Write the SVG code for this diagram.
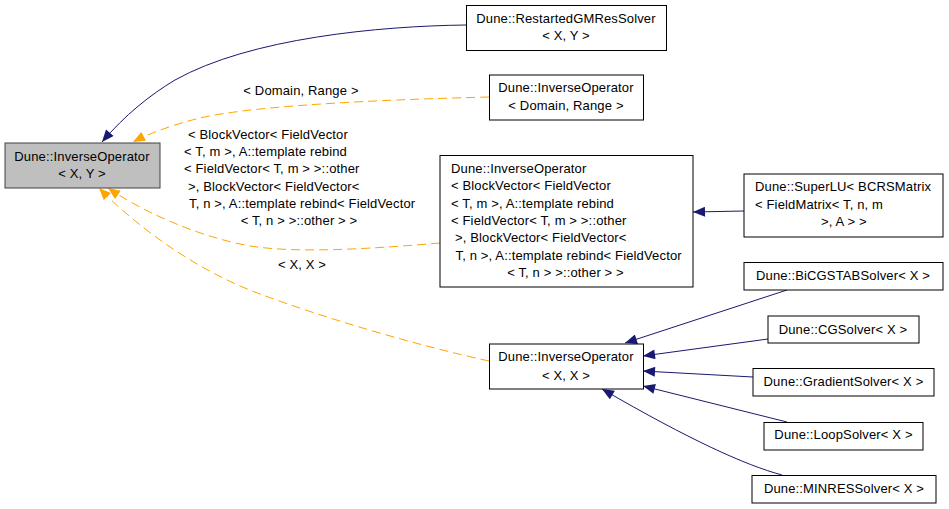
<svg xmlns="http://www.w3.org/2000/svg" width="949" height="509" viewBox="0 0 949 509">
<style>
text{font-family:"Liberation Sans",Arial,sans-serif;font-size:13px;letter-spacing:0.15px;fill:#000}
.c{text-anchor:middle}
.box{fill:#fff;stroke:#000;stroke-width:1}
.main{fill:#bfbfbf;stroke:#404040;stroke-width:1}
.inh{fill:none;stroke:#191970;stroke-width:1}
.tpl{fill:none;stroke:#ffa500;stroke-width:1;stroke-dasharray:9,5}
</style>
<defs>
<marker id="an" markerWidth="13" markerHeight="10" refX="12" refY="5" orient="auto" markerUnits="userSpaceOnUse" viewBox="0 0 12 10"><path d="M0,0 L12,5 L0,10 Z" fill="#191970"/></marker>
<marker id="ao" markerWidth="13" markerHeight="10" refX="12" refY="5" orient="auto" markerUnits="userSpaceOnUse" viewBox="0 0 12 10"><path d="M0,0 L12,5 L0,10 Z" fill="#ffa500"/></marker>
</defs>
<rect width="949" height="509" fill="#fff"/>
<g id="edges">
<path class="inh" marker-end="url(#an)" d="M466,25 C380,26 250,38 175,80 C150,95 125,115 102,142"/>
<path class="tpl" marker-end="url(#ao)" d="M489,97 C410,99 260,104 200,118 C175,124 150,133 133,142"/>
<text class="c" x="301" y="95">&lt; Domain, Range &gt;</text>
<path class="tpl" marker-end="url(#ao)" d="M440,243 C380,248 300,254 250,246 C195,236 140,210 108,188"/>
<text x="188" y="139">&lt; BlockVector&lt; FieldVector</text>
<text x="184" y="156">&lt; T, m &gt;, A::template rebind</text>
<text x="184" y="173">&lt; FieldVector&lt; T, m &gt; &gt;::other</text>
<text x="188" y="190.5">&gt;, BlockVector&lt; FieldVector&lt;</text>
<text x="189" y="208">T, n &gt;, A::template rebind&lt; FieldVector</text>
<text class="c" x="299" y="225">&lt; T, n &gt; &gt;::other &gt; &gt;</text>
<path class="tpl" marker-end="url(#ao)" d="M489,361 C420,346 330,320 260,294 C200,272 140,230 99,188"/>
<text class="c" x="302" y="268.5">&lt; X, X &gt;</text>
<path class="inh" marker-end="url(#an)" d="M744,211 L693,212"/>
<path class="inh" marker-end="url(#an)" d="M787,290 L625,343"/>
<path class="inh" marker-end="url(#an)" d="M768,339 L643,356"/>
<path class="inh" marker-end="url(#an)" d="M753,377 L643,371"/>
<path class="inh" marker-end="url(#an)" d="M787,422 L643,386"/>
<path class="inh" marker-end="url(#an)" d="M782,475 C745,465 690,440 602,389"/>
</g>
<g id="main">
<rect class="main" x="5" y="143" width="155" height="45"/>
<text class="c" x="82" y="160.5">Dune::InverseOperator</text>
<text class="c" x="82" y="177.5">&lt; X, Y &gt;</text>
</g>
<g id="gmres">
<rect class="box" x="466.5" y="5.5" width="200" height="45"/>
<text class="c" x="566" y="23">Dune::RestartedGMResSolver</text>
<text class="c" x="566" y="40">&lt; X, Y &gt;</text>
</g>
<g id="io_dr">
<rect class="box" x="489.5" y="75" width="154" height="45"/>
<text class="c" x="566" y="92">Dune::InverseOperator</text>
<text class="c" x="566" y="109.5">&lt; Domain, Range &gt;</text>
</g>
<g id="io_bv">
<rect class="box" x="440" y="155.5" width="253" height="131.5"/>
<text x="451" y="173">Dune::InverseOperator</text>
<text x="451" y="190.3">&lt; BlockVector&lt; FieldVector</text>
<text x="451" y="207.6">&lt; T, m &gt;, A::template rebind</text>
<text x="451" y="224.9">&lt; FieldVector&lt; T, m &gt; &gt;::other</text>
<text x="455" y="242.2">&gt;, BlockVector&lt; FieldVector&lt;</text>
<text x="455.5" y="259.5">T, n &gt;, A::template rebind&lt; FieldVector</text>
<text class="c" x="565.5" y="276.8">&lt; T, n &gt; &gt;::other &gt; &gt;</text>
</g>
<g id="superlu">
<rect class="box" x="744" y="174" width="199" height="63"/>
<text x="755" y="190.7">Dune::SuperLU&lt; BCRSMatrix</text>
<text x="755" y="208.7">&lt; FieldMatrix&lt; T, n, m</text>
<text x="821" y="226.4">&gt;, A &gt; &gt;</text>
</g>
<g id="io_xx">
<rect class="box" x="489.5" y="344" width="154" height="45"/>
<text class="c" x="566" y="361.4">Dune::InverseOperator</text>
<text class="c" x="566" y="379.7">&lt; X, X &gt;</text>
</g>
<g id="bicgstab">
<rect class="box" x="744" y="262.5" width="199" height="27.5"/>
<text class="c" x="843" y="280">Dune::BiCGSTABSolver&lt; X &gt;</text>
</g>
<g id="cg">
<rect class="box" x="768" y="316" width="151" height="27"/>
<text class="c" x="843" y="333.7">Dune::CGSolver&lt; X &gt;</text>
</g>
<g id="gradient">
<rect class="box" x="753" y="368.5" width="181" height="27.5"/>
<text class="c" x="843.5" y="386.4">Dune::GradientSolver&lt; X &gt;</text>
</g>
<g id="loop">
<rect class="box" x="764" y="422.5" width="159" height="27.5"/>
<text class="c" x="843.5" y="439">Dune::LoopSolver&lt; X &gt;</text>
</g>
<g id="minres">
<rect class="box" x="752" y="475.5" width="184" height="27.5"/>
<text class="c" x="844" y="493">Dune::MINRESSolver&lt; X &gt;</text>
</g>
</svg>
